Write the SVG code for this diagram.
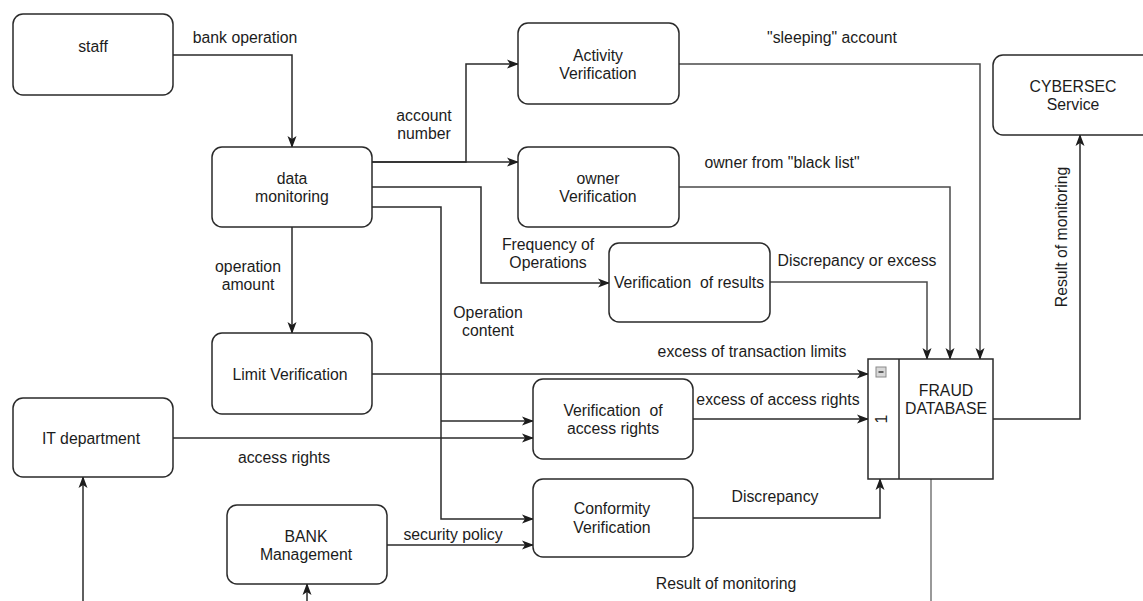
<svg xmlns="http://www.w3.org/2000/svg" width="1143" height="601" viewBox="0 0 1143 601">
  <style>
    .box { fill: #ffffff; stroke: #2a2a2a; stroke-width: 1.5; }
    .db { fill: #ffffff; stroke: #2a2a2a; stroke-width: 1.5; }
    .t { font-family: "Liberation Sans", Arial, Helvetica, sans-serif; font-size: 15.8px; fill: #1c1c1c; text-anchor: middle; white-space: pre; }
    .lbl { font-family: "Liberation Sans", Arial, Helvetica, sans-serif; font-size: 15.8px; fill: #1c1c1c; text-anchor: middle; white-space: pre; }
    .edge { fill: none; stroke: #2a2a2a; stroke-width: 1.5; }
    .arr { marker-end: url(#head); }
    .faint { stroke: #4a4a4a; }
  </style>
  <defs>
    <marker id="head" viewBox="0 0 12 10" refX="11" refY="5" markerWidth="12" markerHeight="10" markerUnits="userSpaceOnUse" orient="auto">
      <path d="M0,0.5 L12,5 L0,9.5 L3,5 z" fill="#1c1c1c"/>
    </marker>
  </defs>

  <rect width="1143" height="601" fill="#ffffff"/>

  <!-- connectors -->
  <g id="connectors">
    <path class="edge arr" d="M173,55 H292 V147"/>
    <path class="edge arr" d="M372,162 H466 V64 H518"/>
    <path class="edge arr" d="M372,162 H518"/>
    <path class="edge arr" d="M372,187 H481 V283 H609"/>
    <path class="edge arr" d="M372,207 H441 V519 H533"/>
    <path class="edge arr" d="M441,421 H533"/>
    <path class="edge arr" d="M292,227 V333"/>
    <path class="edge arr faint" d="M679,64 H980 V359"/>
    <path class="edge arr faint" d="M679,187 H950 V359"/>
    <path class="edge arr faint" d="M770,282 H927 V359"/>
    <path class="edge arr" d="M372,374 H868"/>
    <path class="edge arr" d="M693,419 H868"/>
    <path class="edge arr" d="M173,438 H533"/>
    <path class="edge arr" d="M693,518 H880 V479"/>
    <path class="edge arr" d="M387,545 H533"/>
    <path class="edge arr" d="M993,419 H1080 V135"/>
    <path class="edge" style="stroke:#777777" d="M931,479 V601"/>
    <path class="edge arr" d="M83,601 V477"/>
    <path class="edge arr" d="M307,601 V584"/>
  </g>

  <!-- connector labels -->
  <g id="labels">
    <text class="lbl" x="245" y="43">bank operation</text>
    <text class="lbl" x="424" y="121">account</text>
    <text class="lbl" x="424" y="139">number</text>
    <text class="lbl" x="832" y="43">"sleeping" account</text>
    <text class="lbl" x="782" y="168">owner from "black list"</text>
    <text class="lbl" x="548" y="250">Frequency of</text>
    <text class="lbl" x="548" y="268">Operations</text>
    <text class="lbl" x="248" y="272">operation</text>
    <text class="lbl" x="248" y="290">amount</text>
    <text class="lbl" x="488" y="318">Operation</text>
    <text class="lbl" x="488" y="336">content</text>
    <text class="lbl" x="857" y="266">Discrepancy or excess</text>
    <text class="lbl" x="752" y="357">excess of transaction limits</text>
    <text class="lbl" x="778" y="405">excess of access rights</text>
    <text class="lbl" x="284" y="463">access rights</text>
    <text class="lbl" x="453" y="540">security policy</text>
    <text class="lbl" x="775" y="502">Discrepancy</text>
    <text class="lbl" x="726" y="589">Result of monitoring</text>
    <text class="lbl" transform="translate(1067,237) rotate(-90)" x="0" y="0">Result of monitoring</text>
  </g>

  <!-- nodes -->
  <g id="staff">
    <rect class="box" x="13" y="14" width="160" height="81" rx="10"/>
    <text class="t" x="93" y="52">staff</text>
  </g>
  <g id="data-monitoring">
    <rect class="box" x="212" y="147" width="160" height="80" rx="10"/>
    <text class="t" x="292" y="184">data</text>
    <text class="t" x="292" y="202">monitoring</text>
  </g>
  <g id="activity-verification">
    <rect class="box" x="518" y="23" width="161" height="81" rx="10"/>
    <text class="t" x="598" y="61">Activity</text>
    <text class="t" x="598" y="79">Verification</text>
  </g>
  <g id="owner-verification">
    <rect class="box" x="518" y="147" width="161" height="80" rx="10"/>
    <text class="t" x="598" y="184">owner</text>
    <text class="t" x="598" y="202">Verification</text>
  </g>
  <g id="verification-of-results">
    <rect class="box" x="609" y="243" width="161" height="79" rx="10"/>
    <text class="t" x="689" y="288">Verification  of results</text>
  </g>
  <g id="limit-verification">
    <rect class="box" x="212" y="333" width="160" height="81" rx="10"/>
    <text class="t" x="290" y="380">Limit Verification</text>
  </g>
  <g id="it-department">
    <rect class="box" x="13" y="398" width="160" height="79" rx="10"/>
    <text class="t" x="91" y="444">IT department</text>
  </g>
  <g id="verification-of-access-rights">
    <rect class="box" x="533" y="379" width="160" height="80" rx="10"/>
    <text class="t" x="613" y="416">Verification  of</text>
    <text class="t" x="613" y="434">access rights</text>
  </g>
  <g id="conformity-verification">
    <rect class="box" x="533" y="479" width="160" height="78" rx="10"/>
    <text class="t" x="612" y="514">Conformity</text>
    <text class="t" x="612" y="533">Verification</text>
  </g>
  <g id="bank-management">
    <rect class="box" x="227" y="505" width="160" height="79" rx="10"/>
    <text class="t" x="306" y="542">BANK</text>
    <text class="t" x="306" y="560">Management</text>
  </g>
  <g id="cybersec-service">
    <rect class="box" x="993" y="55" width="170" height="80" rx="10"/>
    <text class="t" x="1073" y="92">CYBERSEC</text>
    <text class="t" x="1073" y="110">Service</text>
  </g>
  <g id="fraud-database">
    <rect class="db" x="868" y="359" width="125" height="120"/>
    <line x1="899" y1="359" x2="899" y2="479" stroke="#2a2a2a" stroke-width="1.5"/>
    <rect x="876" y="367" width="10" height="10" fill="#d8d8d8" stroke="#8a8a8a" stroke-width="1"/>
    <line x1="878.5" y1="372" x2="883.5" y2="372" stroke="#3a3a3a" stroke-width="1.5"/>
    <text class="t" transform="translate(887,419) rotate(-90)" x="0" y="0">1</text>
    <text class="t" x="946" y="396">FRAUD</text>
    <text class="t" x="946" y="414">DATABASE</text>
  </g>
</svg>
